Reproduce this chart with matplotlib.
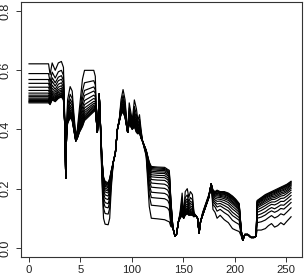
import matplotlib
matplotlib.use("Agg")
import matplotlib.pyplot as plt

band = [0, 19, 20.5, 22.5, 25.5, 28.5, 31.5, 33.5, 35, 35.7,
        36.5, 37.5, 40, 42, 43.5, 45.5, 47, 49, 50.5, 52,
        54, 63, 64.5, 65.5, 66.5, 67.5, 68.3, 69.5, 71, 72.5,
        74, 77, 78.5, 80, 82, 84, 86, 88, 89.5, 91.5,
        93.5, 95, 96, 97.5, 99, 100.5, 102.5, 104.5, 106, 107.5,
        109, 110.5, 114, 117, 119, 125, 132, 135, 136.5, 138,
        140, 142, 143.5, 145.5, 147, 149, 150.5, 152, 154, 155.5,
        157, 159, 160.5, 162, 164, 165.5, 167, 169, 172, 175,
        177.3, 179, 181, 183, 186, 190, 194, 198, 201, 204.5,
        206.5, 208, 210, 213, 216, 219, 221, 222, 226, 230,
        233, 236, 239, 242, 245, 248, 251, 255]

curve_01 = [.622,.622,.585,.625,.600,.625,.630,.610,.400,.235,
            .380,.500,.545,.530,.460,.380,.400,.470,.520,.570,
            .600,.600,.580,.450,.390,.460,.520,.400,.220,.100,
            .080,.078,.100,.200,.290,.320,.400,.440,.500,.535,
            .500,.430,.390,.490,.460,.430,.500,.470,.430,.450,
            .400,.360,.310,.140,.100,.098,.095,.090,.088,.072,
            .068,.040,.045,.090,.120,.185,.110,.190,.200,.170,
            .190,.180,.120,.110,.100,.050,.090,.120,.150,.180,
            .216,.130,.120,.100,.110,.095,.085,.065,.060,.055,
            .040,.025,.045,.045,.035,.035,.040,.060,.060,.065,
            .075,.082,.070,.075,.085,.078,.090,.105]
curve_02 = [.589,.589,.560,.594,.574,.595,.600,.583,.400,.235,
            .380,.480,.519,.505,.445,.375,.393,.450,.490,.530,
            .558,.565,.551,.445,.390,.458,.520,.405,.240,.135,
            .116,.114,.134,.215,.290,.320,.400,.438,.488,.516,
            .485,.425,.390,.473,.448,.423,.478,.450,.419,.435,
            .393,.360,.315,.178,.144,.142,.139,.134,.125,.078,
            .068,.040,.045,.090,.115,.166,.108,.170,.179,.155,
            .170,.163,.116,.110,.100,.050,.090,.118,.148,.178,
            .216,.146,.138,.124,.130,.119,.110,.093,.086,.079,
            .045,.025,.045,.045,.035,.035,.040,.085,.088,.094,
            .102,.109,.101,.106,.115,.111,.121,.135]
curve_03 = [.569,.569,.545,.575,.558,.577,.582,.566,.400,.235,
            .380,.468,.503,.490,.436,.372,.388,.438,.472,.506,
            .532,.544,.534,.442,.390,.456,.520,.408,.252,.156,
            .138,.135,.154,.224,.290,.320,.400,.436,.480,.505,
            .476,.422,.390,.462,.440,.418,.464,.438,.412,.426,
            .388,.360,.318,.200,.170,.168,.166,.160,.148,.085,
            .068,.040,.045,.090,.112,.155,.106,.158,.166,.146,
            .158,.152,.114,.110,.100,.050,.090,.116,.146,.176,
            .216,.156,.148,.138,.142,.133,.125,.109,.102,.093,
            .048,.025,.045,.045,.035,.035,.040,.100,.104,.111,
            .119,.125,.120,.125,.133,.131,.140,.153]
curve_04 = [.556,.556,.535,.563,.547,.565,.570,.555,.400,.235,
            .380,.460,.493,.480,.430,.370,.385,.430,.460,.490,
            .515,.530,.523,.440,.390,.455,.520,.410,.260,.170,
            .153,.149,.168,.230,.290,.320,.400,.435,.475,.498,
            .470,.420,.390,.455,.435,.415,.455,.430,.408,.420,
            .385,.360,.320,.215,.188,.186,.184,.178,.165,.092,
            .068,.040,.045,.090,.110,.148,.105,.150,.158,.140,
            .150,.145,.113,.110,.100,.050,.090,.115,.145,.175,
            .216,.163,.155,.148,.150,.143,.135,.120,.112,.102,
            .050,.025,.045,.045,.035,.035,.040,.110,.115,.122,
            .130,.136,.132,.138,.145,.144,.153,.165]
curve_05 = [.543,.543,.524,.550,.536,.553,.558,.544,.400,.235,
            .380,.452,.482,.470,.424,.368,.382,.422,.448,.474,
            .498,.516,.511,.438,.390,.454,.520,.412,.268,.184,
            .167,.163,.181,.236,.290,.320,.400,.434,.470,.490,
            .464,.418,.390,.448,.430,.412,.446,.422,.403,.414,
            .382,.360,.322,.230,.205,.203,.201,.195,.182,.100,
            .068,.040,.045,.090,.108,.140,.104,.142,.149,.134,
            .142,.138,.111,.110,.100,.050,.090,.114,.144,.174,
            .216,.169,.162,.157,.158,.152,.145,.131,.123,.112,
            .052,.025,.045,.045,.035,.035,.040,.120,.126,.134,
            .141,.147,.145,.150,.157,.157,.165,.177]
curve_06 = [.532,.532,.516,.540,.528,.543,.548,.535,.400,.235,
            .380,.446,.474,.462,.419,.366,.380,.416,.438,.461,
            .484,.505,.502,.436,.390,.453,.520,.414,.274,.195,
            .179,.175,.192,.241,.290,.320,.400,.433,.466,.484,
            .459,.416,.390,.442,.426,.410,.439,.416,.399,.409,
            .380,.360,.324,.242,.219,.217,.215,.209,.197,.110,
            .068,.040,.045,.090,.106,.134,.103,.136,.142,.129,
            .136,.132,.110,.110,.100,.050,.090,.113,.143,.173,
            .216,.174,.168,.165,.164,.160,.153,.140,.131,.120,
            .054,.025,.045,.045,.035,.035,.040,.128,.135,.143,
            .150,.155,.155,.160,.167,.168,.175,.187]
curve_07 = [.523,.523,.509,.531,.521,.535,.540,.528,.400,.235,
            .380,.440,.466,.455,.415,.365,.378,.410,.430,.450,
            .473,.495,.494,.435,.390,.453,.520,.415,.280,.205,
            .189,.185,.201,.245,.290,.320,.400,.433,.463,.479,
            .455,.415,.390,.438,.423,.408,.433,.410,.396,.405,
            .378,.360,.325,.253,.231,.229,.228,.221,.210,.120,
            .068,.040,.045,.090,.105,.129,.103,.130,.136,.125,
            .130,.128,.109,.110,.100,.050,.090,.113,.143,.173,
            .216,.179,.173,.171,.170,.166,.160,.148,.139,.126,
            .055,.025,.045,.045,.035,.035,.040,.135,.143,.151,
            .157,.163,.164,.169,.175,.177,.184,.195]
curve_08 = [.516,.516,.504,.525,.515,.529,.534,.522,.400,.235,
            .380,.436,.461,.450,.412,.364,.376,.406,.424,.442,
            .464,.488,.488,.434,.390,.452,.520,.416,.284,.212,
            .196,.192,.208,.248,.290,.320,.400,.432,.460,.475,
            .452,.414,.390,.434,.420,.406,.428,.406,.394,.402,
            .376,.360,.326,.260,.240,.238,.237,.230,.220,.130,
            .068,.040,.045,.090,.104,.125,.102,.126,.132,.122,
            .126,.124,.108,.110,.100,.050,.090,.112,.142,.172,
            .216,.182,.176,.176,.174,.171,.165,.153,.144,.131,
            .056,.025,.045,.045,.035,.035,.040,.140,.148,.157,
            .163,.168,.170,.175,.181,.184,.190,.201]
curve_09 = [.511,.511,.500,.520,.511,.524,.529,.518,.400,.235,
            .380,.433,.457,.446,.410,.363,.375,.403,.419,.436,
            .457,.482,.483,.433,.390,.452,.520,.417,.287,.218,
            .202,.197,.213,.250,.290,.320,.400,.432,.458,.472,
            .450,.413,.390,.431,.418,.405,.424,.403,.392,.400,
            .375,.360,.327,.266,.247,.245,.244,.237,.228,.138,
            .068,.040,.045,.090,.103,.122,.102,.123,.129,.120,
            .123,.121,.107,.110,.100,.050,.090,.112,.142,.172,
            .216,.185,.179,.180,.177,.175,.169,.157,.148,.135,
            .057,.025,.045,.045,.035,.035,.040,.144,.152,.162,
            .167,.173,.175,.180,.186,.189,.195,.206]
curve_10 = [.506,.506,.496,.515,.507,.519,.524,.513,.400,.235,
            .380,.430,.453,.442,.407,.362,.374,.400,.414,.429,
            .450,.477,.479,.432,.390,.451,.520,.418,.290,.223,
            .208,.203,.219,.253,.290,.320,.400,.431,.456,.469,
            .447,.412,.390,.428,.416,.404,.421,.400,.390,.397,
            .374,.360,.328,.272,.254,.252,.251,.244,.236,.145,
            .068,.040,.045,.090,.102,.119,.101,.120,.125,.117,
            .120,.118,.107,.110,.100,.050,.090,.111,.141,.171,
            .216,.187,.182,.184,.180,.179,.173,.162,.152,.139,
            .058,.025,.045,.045,.035,.035,.040,.148,.157,.166,
            .172,.177,.180,.185,.191,.194,.200,.211]
curve_11 = [.502,.502,.493,.511,.504,.516,.521,.510,.400,.235,
            .380,.427,.449,.439,.405,.362,.373,.397,.411,.424,
            .445,.473,.475,.432,.390,.451,.520,.418,.293,.227,
            .212,.207,.223,.255,.290,.320,.400,.431,.455,.467,
            .445,.412,.390,.426,.415,.403,.418,.397,.389,.395,
            .373,.360,.328,.277,.259,.257,.256,.249,.242,.150,
            .068,.040,.045,.090,.102,.117,.101,.117,.123,.115,
            .117,.116,.106,.110,.100,.050,.090,.111,.141,.171,
            .216,.189,.184,.186,.183,.181,.176,.165,.156,.141,
            .058,.025,.045,.045,.035,.035,.040,.151,.160,.170,
            .175,.180,.184,.189,.194,.198,.204,.214]
curve_12 = [.498,.498,.490,.508,.500,.512,.517,.507,.400,.235,
            .380,.425,.446,.436,.404,.361,.372,.395,.407,.420,
            .440,.468,.472,.431,.390,.451,.520,.419,.295,.232,
            .216,.211,.227,.256,.290,.320,.400,.431,.453,.465,
            .444,.411,.390,.424,.413,.402,.415,.395,.388,.394,
            .372,.360,.329,.281,.264,.262,.261,.254,.248,.155,
            .068,.040,.045,.090,.101,.115,.101,.115,.120,.114,
            .115,.114,.106,.110,.100,.050,.090,.111,.141,.171,
            .216,.191,.186,.189,.185,.184,.179,.168,.159,.144,
            .059,.025,.045,.045,.035,.035,.040,.154,.163,.173,
            .178,.184,.187,.192,.198,.202,.208,.218]
curve_13 = [.495,.495,.488,.505,.498,.510,.515,.504,.400,.235,
            .380,.423,.444,.434,.402,.361,.371,.393,.405,.416,
            .437,.466,.470,.431,.390,.450,.520,.419,.297,.234,
            .219,.214,.230,.258,.290,.320,.400,.430,.452,.463,
            .442,.411,.390,.423,.412,.401,.414,.393,.387,.392,
            .371,.360,.329,.284,.268,.266,.265,.258,.253,.158,
            .068,.040,.045,.090,.101,.113,.100,.113,.118,.112,
            .113,.113,.106,.110,.100,.050,.090,.110,.140,.170,
            .216,.192,.187,.191,.187,.186,.181,.171,.161,.146,
            .059,.025,.045,.045,.035,.035,.040,.156,.166,.175,
            .181,.186,.190,.195,.200,.205,.210,.220]
curve_14 = [.493,.493,.486,.503,.496,.507,.512,.502,.400,.235,
            .380,.422,.442,.432,.401,.360,.371,.392,.402,.413,
            .433,.463,.467,.430,.390,.450,.520,.420,.298,.237,
            .222,.217,.232,.259,.290,.320,.400,.430,.451,.462,
            .441,.410,.390,.421,.411,.401,.412,.392,.386,.391,
            .371,.360,.330,.287,.272,.270,.268,.262,.257,.160,
            .068,.040,.045,.090,.100,.112,.100,.112,.117,.111,
            .112,.111,.105,.110,.100,.050,.090,.110,.140,.170,
            .216,.194,.189,.193,.188,.188,.183,.173,.163,.148,
            .060,.025,.045,.045,.035,.035,.040,.158,.168,.178,
            .183,.188,.192,.197,.203,.207,.213,.223]
curve_15 = [.490,.490,.484,.500,.494,.505,.510,.500,.400,.235,
            .380,.420,.440,.430,.400,.360,.370,.390,.400,.410,
            .430,.460,.465,.430,.390,.450,.520,.420,.300,.240,
            .225,.220,.235,.260,.290,.320,.400,.430,.450,.460,
            .440,.410,.390,.420,.410,.400,.410,.390,.385,.390,
            .370,.360,.330,.290,.275,.273,.272,.265,.262,.165,
            .068,.040,.045,.090,.100,.110,.100,.110,.115,.110,
            .110,.110,.105,.110,.100,.050,.090,.110,.140,.170,
            .216,.195,.190,.195,.190,.190,.185,.175,.165,.150,
            .060,.025,.045,.045,.035,.035,.040,.160,.170,.180,
            .185,.190,.195,.200,.205,.210,.215,.225]

curves = [curve_01, curve_02, curve_03, curve_04, curve_05,
          curve_06, curve_07, curve_08, curve_09, curve_10,
          curve_11, curve_12, curve_13, curve_14, curve_15]

x_ticks = [0, 50, 100, 150, 200, 250]
x_tick_labels = ["0", "5", "100", "150", "200", "250"]
y_ticks = [0.0, 0.2, 0.4, 0.6, 0.8]
y_tick_labels = ["0.0", "0.2", "0.4", "0.6", "0.8"]

plt.rcParams["font.family"] = ["Liberation Sans", "DejaVu Sans"]

fig = plt.figure(figsize=(3.05, 2.75), dpi=100)
ax = fig.add_axes([0.0679, 0.0644, 0.9231, 0.9294])

for c in curves:
    ax.plot(band, c, color="black", lw=0.85, solid_joinstyle="round")

ax.set_xlim(-8.1, 265.9)
ax.set_ylim(-0.032, 0.832)

ax.set_xticks(x_ticks)
ax.set_xticklabels(x_tick_labels, fontsize=8.2)
ax.set_yticks(y_ticks)
ax.set_yticklabels(y_tick_labels, fontsize=9, rotation=90, va="center")

ax.tick_params(axis="both", direction="out", length=3.5, width=0.7,
               color="#333333", labelcolor="#222222")
ax.tick_params(axis="x", pad=2.2)
ax.tick_params(axis="y", pad=3.0)

for s in ax.spines.values():
    s.set_linewidth(0.8)
    s.set_color("#333333")

fig.savefig("out.png", dpi=100)
